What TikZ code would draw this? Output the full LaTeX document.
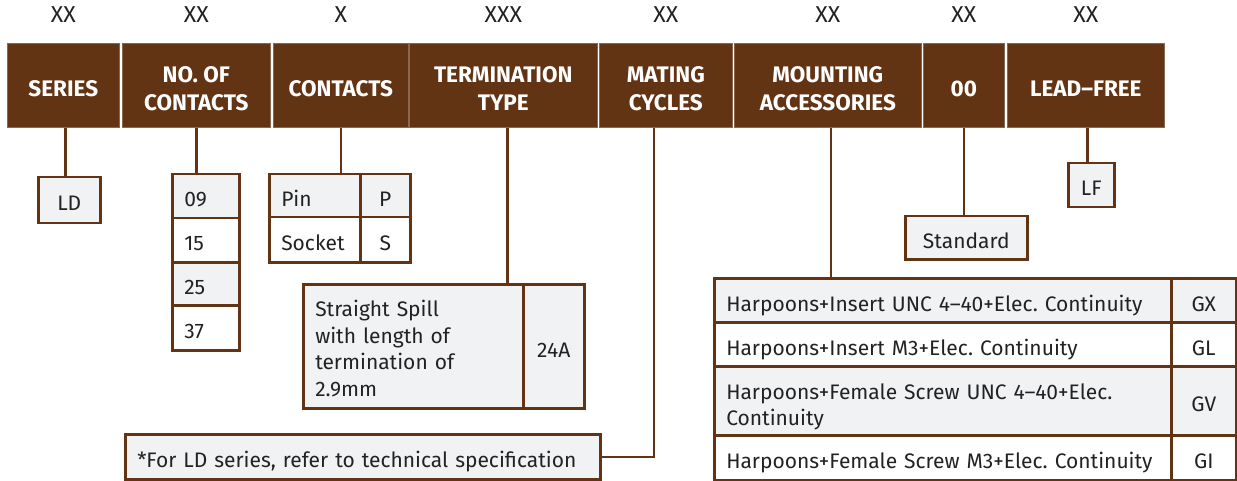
\documentclass[tikz,border=0pt]{standalone}
\usepackage{fontspec}
\setmainfont{Fira Sans}
\definecolor{brn}{RGB}{99,52,20}
\definecolor{cellgray}{RGB}{241,242,244}
\definecolor{txt}{RGB}{34,34,34}
\frenchspacing
\begin{document}
\begin{tikzpicture}[x=1pt,y=-1pt,
  hdr/.style={fill=brn, draw=brn!75, line width=0.6pt, anchor=north west, inner sep=0pt, minimum height=84pt},
  hdrtext/.style={text=white, font=\fontsize{22.5}{28}\selectfont\bfseries, align=center, inner sep=0pt},
  toplbl/.style={text=txt, font=\fontsize{23}{26}\selectfont, inner sep=0pt},
  cell/.style={draw=brn, line width=2.5pt, anchor=north west, inner sep=0pt, text=txt, font=\fontsize{21}{26.5}\selectfont},
  one/.style={text height=21.5pt, text depth=0pt},
  gcell/.style={cell, fill=cellgray},
  wcell/.style={cell, fill=white},
  conn/.style={draw=brn, line width=2.5pt}
]
\useasboundingbox (0,0) rectangle (1237,481);
% headers
\node[hdr, minimum width=112pt] (h1) at (7,43) {};
\node[hdr, minimum width=148pt] (h2) at (122,43) {};
\node[hdr, minimum width=135pt] (h3) at (273,43) {};
\node[hdr, minimum width=188pt] (h4) at (409,43) {};
\node[hdr, minimum width=133pt] (h5) at (599,43) {};
\node[hdr, minimum width=187pt] (h6) at (734,43) {};
\node[hdr, minimum width=81pt] (h7) at (923,43) {};
\node[hdr, minimum width=157pt] (h8) at (1007,43) {};
\node[hdrtext] (h1t) at ([yshift=-3.5pt]h1.center) {SERIES};
\node[hdrtext] (h2t) at ([yshift=-3.5pt]h2.center) {NO. OF\\CONTACTS};
\node[hdrtext] (h3t) at ([yshift=-3.5pt]h3.center) {CONTACTS};
\node[hdrtext] (h4t) at ([yshift=-3.5pt]h4.center) {TERMINATION\\TYPE};
\node[hdrtext] (h5t) at ([yshift=-3.5pt]h5.center) {MATING\\CYCLES};
\node[hdrtext] (h6t) at ([yshift=-3.5pt]h6.center) {MOUNTING\\ACCESSORIES};
\node[hdrtext] (h7t) at ([yshift=-3.5pt]h7.center) {00};
\node[hdrtext] (h8t) at ([yshift=-3.5pt]h8.center) {LEAD\textendash FREE};
% top labels
\node[toplbl] (t1) at (h1.north |- 0,15) {XX};
\node[toplbl] (t2) at (h2.north |- 0,15) {XX};
\node[toplbl] (t3) at (h3.north |- 0,15) {X};
\node[toplbl] (t4) at (h4.north |- 0,15) {XXX};
\node[toplbl] (t5) at (h5.north |- 0,15) {XX};
\node[toplbl] (t6) at (h6.north |- 0,15) {XX};
\node[toplbl] (t7) at (h7.north |- 0,15) {XX};
\node[toplbl] (t8) at (h8.north |- 0,15) {XX};
% series
\node[gcell, one, minimum width=62pt, minimum height=46pt] (ld) at (37,176) {LD};
% no of contacts
\node[gcell, one, minimum width=55pt, minimum height=44pt, align=left, text width=43pt, inner xsep=12pt] (n09) at (171,173) {09};
\node[wcell, one, minimum width=55pt, minimum height=44pt, align=left, text width=43pt, inner xsep=12pt] (n15) at (171,217) {15};
\node[gcell, one, minimum width=55pt, minimum height=43pt, align=left, text width=43pt, inner xsep=12pt] (n25) at (171,261) {25};
\node[wcell, one, minimum width=55pt, minimum height=45pt, align=left, text width=43pt, inner xsep=12pt] (n37) at (171,304) {37};
% contacts
\node[gcell, one, minimum width=91pt, minimum height=43pt, align=left, text width=79pt, inner xsep=12pt] (pin) at (268,173) {Pin};
\node[gcell, one, minimum width=50pt, minimum height=43pt] (pinc) at (359,173) {P};
\node[wcell, one, minimum width=91pt, minimum height=45pt, align=left, text width=79pt, inner xsep=12pt] (sock) at (268,216) {Socket};
\node[wcell, one, minimum width=50pt, minimum height=45pt] (sockc) at (359,216) {S};
% termination
\node[gcell, minimum width=220pt, minimum height=124pt, align=left, text width=208pt, inner xsep=12pt] (term) at (302,283) {\rule{0pt}{21pt}Straight Spill\\with length of\\termination of\\2.9mm};
\node[gcell, one, minimum width=61pt, minimum height=124pt] (termc) at (522,283) {24A};
% note
\node[gcell, one, minimum width=463pt, minimum height=45pt, align=left, text width=451pt, inner xsep=12pt] (note) at (124,433) {*For LD series, refer to technical specification};
% standard
\node[gcell, one, minimum width=122pt, minimum height=43pt] (std) at (904,215) {Standard};
% LF
\node[gcell, one, minimum width=46pt, minimum height=44pt] (lf) at (1067,162) {LF};
% mounting
\node[gcell, one, minimum width=457pt, minimum height=44pt, align=left, text width=445pt, inner xsep=12pt] (m1) at (713,277) {Harpoons+Insert UNC 4\textendash 40+Elec. Continuity};
\node[gcell, one, minimum width=65pt, minimum height=44pt] (m1c) at (1170,277) {GX};
\node[wcell, one, minimum width=457pt, minimum height=44pt, align=left, text width=445pt, inner xsep=12pt] (m2) at (713,321) {Harpoons+Insert M3+Elec. Continuity};
\node[wcell, one, minimum width=65pt, minimum height=44pt] (m2c) at (1170,321) {GL};
\node[gcell, minimum width=457pt, minimum height=69pt, align=left, text width=445pt, inner xsep=12pt] (m3) at (713,365) {\rule{0pt}{27.5pt}Harpoons+Female Screw UNC 4\textendash 40+Elec.\\Continuity};
\node[gcell, one, minimum width=65pt, minimum height=69pt] (m3c) at (1170,365) {GV};
\node[wcell, one, minimum width=457pt, minimum height=45pt, align=left, text width=445pt, inner xsep=12pt] (m4) at (713,434) {Harpoons+Female Screw M3+Elec. Continuity};
\node[wcell, one, minimum width=65pt, minimum height=45pt] (m4c) at (1170,434) {GI};
% connectors
\draw[conn] ([xshift=2pt]h1.south) -- ([xshift=2pt]h1.south |- ld.north);
\draw[conn] (h2.south) -- (h2.south |- n09.north);
\draw[conn] (h3.south) -- (h3.south |- pin.north);
\draw[conn] ([xshift=4pt]h4.south) -- ([xshift=4pt]h4.south |- term.north);
\draw[conn] ([xshift=-12pt]h5.south) |- (note.east);
\draw[conn] ([xshift=3pt]h6.south) -- ([xshift=3pt]h6.south |- m1.north);
\draw[conn] (h7.south) -- (h7.south |- std.north);
\draw[conn] ([xshift=1.5pt]h8.south) -- ([xshift=1.5pt]h8.south |- lf.north);
\end{tikzpicture}
\end{document}
